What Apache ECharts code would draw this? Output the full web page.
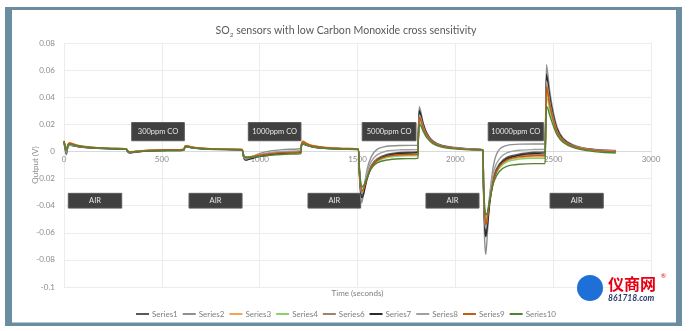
<!DOCTYPE html>
<html>
<head>
<meta charset="utf-8">
<script src="https://cdn.jsdelivr.net/npm/echarts@6.0.0/dist/echarts.min.js"></script>
<style>
  html, body { margin: 0; padding: 0; background: #ffffff; }
  #chart { width: 692px; height: 331px; }
</style>
</head>
<body>
<div id="chart"></div>
<script>
// Sample times (seconds), shared by every sensor trace
const times = [
  0, 6, 12, 20, 30, 45, 70, 110, 170, 240, 318,
  324, 335, 355, 390, 450, 530, 612,
  618, 628, 650, 700, 780, 910,
  914, 920, 930, 950, 990, 1050, 1130, 1210,
  1214, 1222, 1240, 1270, 1330, 1420, 1503,
  1508, 1515, 1522, 1532, 1548, 1570, 1600, 1650, 1720, 1808,
  1811, 1816, 1824, 1836, 1855, 1885, 1930, 2000, 2080, 2140,
  2144, 2150, 2156, 2164, 2178, 2198, 2225, 2265, 2330, 2400, 2458,
  2461, 2466, 2472, 2482, 2498, 2520, 2550, 2600, 2670, 2750, 2820
];

// Sensor outputs (V) at each sample time
const series1 = [
  0.0070, 0.0030, -0.0005, 0.0040, 0.0050, 0.0046, 0.0038, 0.0031, 0.0025, 0.0021, 0.0019,
  0.0004, -0.0006, -0.0004, 0.0002, 0.0007, 0.0010, 0.0012,
  0.0034, 0.0037, 0.0029, 0.0022, 0.0017, 0.0013,
  -0.0012, -0.0042, -0.0052, -0.0046, -0.0031, -0.0016, -0.0006, 0.0000,
  0.0048, 0.0058, 0.0047, 0.0035, 0.0026, 0.0020, 0.0017,
  -0.011, -0.026, -0.032, -0.029, -0.019, -0.0105, -0.0055, -0.0022, -0.0008, 0.0000,
  0.011, 0.028, 0.0255, 0.019, 0.0125, 0.0072, 0.0041, 0.0025, 0.0016, 0.0012,
  -0.026, -0.052, -0.059, -0.051, -0.033, -0.0175, -0.0092, -0.0042, -0.0018, -0.0006, 0.0000,
  0.016, 0.055, 0.050, 0.040, 0.028, 0.016, 0.009, 0.0045, 0.0020, 0.0010, 0.0005
];
const series2 = [
  0.0065, 0.0010, -0.0025, 0.0030, 0.0045, 0.0042, 0.0035, 0.0029, 0.0024, 0.0021, 0.0019,
  0.0000, -0.0012, -0.0008, 0.0000, 0.0007, 0.0011, 0.0014,
  0.0036, 0.0038, 0.0030, 0.0023, 0.0018, 0.0014,
  -0.0018, -0.0055, -0.0066, -0.0050, -0.0020, 0.0002, 0.0015, 0.0022,
  0.0050, 0.0058, 0.0046, 0.0035, 0.0027, 0.0021, 0.0018,
  -0.013, -0.031, -0.038, -0.030, -0.014, -0.004, 0.0015, 0.0038, 0.0044, 0.0045,
  0.014, 0.033, 0.029, 0.021, 0.0135, 0.0078, 0.0046, 0.0029, 0.0019, 0.0014,
  -0.030, -0.066, -0.076, -0.060, -0.030, -0.008, 0.0015, 0.0045, 0.0054, 0.0055, 0.0055,
  0.020, 0.064, 0.058, 0.045, 0.031, 0.018, 0.010, 0.0050, 0.0022, 0.0012, 0.0008
];
const series3 = [
  0.0080, 0.0040, 0.0010, 0.0052, 0.0064, 0.0058, 0.0046, 0.0036, 0.0028, 0.0023, 0.0020,
  0.0007, -0.0002, 0.0000, 0.0005, 0.0009, 0.0012, 0.0014,
  0.0039, 0.0043, 0.0034, 0.0025, 0.0019, 0.0014,
  -0.0007, -0.0031, -0.0040, -0.0038, -0.0029, -0.0018, -0.0009, -0.0004,
  0.0062, 0.0077, 0.0061, 0.0044, 0.0031, 0.0023, 0.0019,
  -0.009, -0.023, -0.028, -0.027, -0.0198, -0.012, -0.0070, -0.0040, -0.0029, -0.0025,
  0.009, 0.024, 0.0222, 0.017, 0.0115, 0.0066, 0.0038, 0.0023, 0.0015, 0.0011,
  -0.023, -0.045, -0.052, -0.048, -0.0335, -0.0195, -0.0115, -0.0068, -0.0046, -0.0040, -0.0040,
  0.013, 0.045, 0.042, 0.0335, 0.024, 0.0142, 0.0079, 0.0037, 0.0013, 0.0002, -0.0004
];
const series4 = [
  0.0072, 0.0033, 0.0005, 0.0045, 0.0056, 0.0051, 0.0042, 0.0034, 0.0027, 0.0022, 0.0020,
  0.0006, -0.0003, -0.0001, 0.0004, 0.0009, 0.0012, 0.0013,
  0.0036, 0.0040, 0.0031, 0.0023, 0.0017, 0.0013,
  -0.0008, -0.0033, -0.0042, -0.0040, -0.0031, -0.0020, -0.0011, -0.0006,
  0.0054, 0.0066, 0.0053, 0.0039, 0.0028, 0.0021, 0.0017,
  -0.0088, -0.022, -0.027, -0.026, -0.0195, -0.0122, -0.0074, -0.0045, -0.0034, -0.0030,
  0.0085, 0.022, 0.0205, 0.016, 0.0108, 0.0062, 0.0036, 0.0022, 0.0014, 0.0010,
  -0.022, -0.043, -0.050, -0.047, -0.0335, -0.020, -0.0122, -0.0077, -0.0056, -0.0050, -0.0050,
  0.012, 0.040, 0.038, 0.031, 0.0225, 0.0135, 0.0076, 0.0035, 0.0011, 0.0000, -0.0006
];
const series6 = [
  0.0075, 0.0035, 0.0000, 0.0045, 0.0055, 0.0050, 0.0041, 0.0033, 0.0026, 0.0022, 0.0019,
  0.0005, -0.0004, -0.0002, 0.0003, 0.0008, 0.0011, 0.0013,
  0.0036, 0.0040, 0.0031, 0.0023, 0.0017, 0.0013,
  -0.0010, -0.0038, -0.0047, -0.0043, -0.0031, -0.0018, -0.0009, -0.0004,
  0.0052, 0.0062, 0.0050, 0.0037, 0.0027, 0.0021, 0.0017,
  -0.010, -0.025, -0.030, -0.028, -0.0195, -0.0112, -0.0060, -0.0029, -0.0015, -0.0010,
  0.010, 0.026, 0.0238, 0.018, 0.012, 0.0069, 0.0040, 0.0024, 0.0015, 0.0011,
  -0.025, -0.049, -0.056, -0.050, -0.034, -0.019, -0.0105, -0.0055, -0.0030, -0.0022, -0.0020,
  0.015, 0.050, 0.046, 0.036, 0.0255, 0.0148, 0.0083, 0.0041, 0.0017, 0.0006, 0.0001
];
const series7 = [
  0.0072, 0.0020, -0.0015, 0.0035, 0.0048, 0.0044, 0.0036, 0.0029, 0.0023, 0.0019, 0.0017,
  0.0001, -0.0010, -0.0007, -0.0001, 0.0004, 0.0007, 0.0009,
  0.0031, 0.0035, 0.0027, 0.0020, 0.0015, 0.0011,
  -0.0016, -0.0050, -0.0063, -0.0056, -0.0040, -0.0024, -0.0012, -0.0005,
  0.0044, 0.0055, 0.0045, 0.0033, 0.0024, 0.0018, 0.0015,
  -0.012, -0.028, -0.034, -0.031, -0.021, -0.012, -0.0065, -0.0030, -0.0013, -0.0005,
  0.012, 0.030, 0.027, 0.020, 0.013, 0.0074, 0.0042, 0.0025, 0.0016, 0.0011,
  -0.027, -0.055, -0.063, -0.055, -0.036, -0.0195, -0.0105, -0.0052, -0.0026, -0.0014, -0.0010,
  0.017, 0.057, 0.052, 0.041, 0.0285, 0.0165, 0.0092, 0.0045, 0.0019, 0.0008, 0.0002
];
const series8 = [
  0.0068, 0.0025, -0.0010, 0.0036, 0.0047, 0.0044, 0.0037, 0.0030, 0.0025, 0.0021, 0.0019,
  0.0003, -0.0007, -0.0004, 0.0003, 0.0008, 0.0011, 0.0013,
  0.0035, 0.0037, 0.0029, 0.0022, 0.0017, 0.0013,
  -0.0014, -0.0046, -0.0056, -0.0046, -0.0026, -0.0010, 0.0001, 0.0008,
  0.0049, 0.0058, 0.0047, 0.0035, 0.0026, 0.0020, 0.0017,
  -0.011, -0.026, -0.031, -0.027, -0.016, -0.0075, -0.0025, 0.0003, 0.0012, 0.0015,
  0.011, 0.027, 0.0245, 0.0185, 0.0122, 0.0071, 0.0041, 0.0025, 0.0016, 0.0012,
  -0.026, -0.051, -0.057, -0.048, -0.029, -0.0135, -0.0055, -0.0008, 0.0009, 0.0014, 0.0015,
  0.016, 0.052, 0.047, 0.037, 0.026, 0.015, 0.0085, 0.0042, 0.0019, 0.0009, 0.0004
];
const series9 = [
  0.0078, 0.0038, 0.0008, 0.0050, 0.0062, 0.0056, 0.0045, 0.0035, 0.0028, 0.0023, 0.0020,
  0.0006, -0.0003, -0.0001, 0.0004, 0.0009, 0.0012, 0.0014,
  0.0038, 0.0042, 0.0033, 0.0024, 0.0018, 0.0014,
  -0.0008, -0.0034, -0.0043, -0.0040, -0.0030, -0.0018, -0.0009, -0.0004,
  0.0058, 0.0072, 0.0058, 0.0042, 0.0030, 0.0022, 0.0018,
  -0.0095, -0.024, -0.029, -0.0275, -0.020, -0.0118, -0.0067, -0.0036, -0.0024, -0.0020,
  0.0095, 0.025, 0.023, 0.0175, 0.0118, 0.0068, 0.0039, 0.0024, 0.0015, 0.0011,
  -0.024, -0.047, -0.054, -0.049, -0.034, -0.0195, -0.011, -0.0062, -0.0038, -0.0031, -0.0030,
  0.014, 0.048, 0.044, 0.035, 0.0248, 0.0145, 0.0081, 0.0039, 0.0015, 0.0004, -0.0002
];
const series10 = [
  0.0070, 0.0032, 0.0006, 0.0044, 0.0054, 0.0049, 0.0040, 0.0032, 0.0025, 0.0020, 0.0017,
  0.0004, -0.0005, -0.0004, 0.0000, 0.0004, 0.0007, 0.0009,
  0.0032, 0.0036, 0.0028, 0.0020, 0.0014, 0.0010,
  -0.0010, -0.0035, -0.0045, -0.0045, -0.0038, -0.0029, -0.0021, -0.0016,
  0.0046, 0.0058, 0.0047, 0.0034, 0.0024, 0.0017, 0.0014,
  -0.0085, -0.021, -0.026, -0.025, -0.0195, -0.0128, -0.0085, -0.0063, -0.0054, -0.0050,
  0.008, 0.020, 0.0188, 0.0148, 0.0100, 0.0058, 0.0033, 0.0019, 0.0011, 0.0007,
  -0.021, -0.041, -0.047, -0.045, -0.034, -0.022, -0.0148, -0.0108, -0.0094, -0.0090, -0.0090,
  0.010, 0.033, 0.032, 0.027, 0.020, 0.0122, 0.0068, 0.0030, 0.0006, -0.0006, -0.0012
];

const seriesNames = ['Series1', 'Series2', 'Series3', 'Series4', 'Series6', 'Series7', 'Series8', 'Series9', 'Series10'];
const seriesValues = [series1, series2, series3, series4, series6, series7, series8, series9, series10];
const seriesColors = ['#595959', '#8f8f8f', '#f2a450', '#8fcf6c', '#a3826c', '#2b2b2b', '#a0a0a0', '#c55a11', '#548235'];

// Gas-exposure annotation boxes: label, time span (s), output span (V)
const annotations = [
  ['300ppm CO',   346,  615,  0.0213,  0.0079],
  ['1000ppm CO',  942, 1211,  0.0213,  0.0079],
  ['5000ppm CO', 1524, 1799,  0.0213,  0.0079],
  ['10000ppm CO',2168, 2450,  0.0213,  0.0079],
  ['AIR',          22,  295, -0.0309, -0.0418],
  ['AIR',         639,  910, -0.0309, -0.0418],
  ['AIR',        1247, 1516, -0.0309, -0.0418],
  ['AIR',        1850, 2121, -0.0309, -0.0418],
  ['AIR',        2484, 2756, -0.0309, -0.0418]
];

const Y_MIN = -0.1, Y_MAX = 0.08;
const GRID = { left: 64, right: 41, top: 43, bottom: 44 };
const PLOT_H = 331 - GRID.top - GRID.bottom;

const FONT = 'Lato, "Open Sans", sans-serif';
const chart = echarts.init(document.getElementById('chart'), null, { renderer: 'canvas' });

const lineSeries = seriesNames.map((name, k) => ({
  name: name,
  type: 'line',
  data: times.map((t, i) => [t, seriesValues[k][i]]),
  showSymbol: false,
  symbol: 'none',
  smooth: 0.25,
  z: 3,
  color: seriesColors[k],
  lineStyle: { width: 1.4, color: seriesColors[k] },
  emphasis: { disabled: true }
}));

const boxSeries = {
  name: 'boxes',
  type: 'line',
  data: [],
  z: 1,
  silent: true,
  markArea: {
    silent: true,
    itemStyle: { color: '#404040', borderColor: '#5a5a5a', borderWidth: 1, opacity: 1 },
    label: { show: true, position: 'inside', color: '#e8e8e8', fontSize: 7.5, fontFamily: FONT },
    data: annotations.map(a => [
      { name: a[0], xAxis: a[1], yAxis: a[3] },
      { xAxis: a[2], yAxis: a[4] }
    ])
  }
};

chart.setOption({
  backgroundColor: '#ffffff',
  animation: false,
  title: {
    text: '{n|SO}{s|2}{n| sensors with low Carbon Monoxide cross sensitivity}',
    left: 'center',
    top: 19,
    textStyle: {
      fontWeight: 'normal',
      rich: {
        n: { fontSize: 10.6, color: '#595959', fontFamily: FONT, fontWeight: 'normal', lineHeight: 14 },
        s: { fontSize: 6.5, color: '#595959', fontFamily: FONT, fontWeight: 'normal', lineHeight: 7, verticalAlign: 'bottom' }
      }
    }
  },
  grid: Object.assign({ containLabel: false }, GRID),
  legend: {
    data: seriesNames,
    left: 'center',
    top: 305,
    icon: 'rect',
    itemWidth: 13,
    itemHeight: 2,
    itemGap: 5,
    textStyle: { fontSize: 8, color: '#7f7f7f', fontFamily: FONT, padding: [0, 0, 0, -2] }
  },
  xAxis: {
    type: 'value',
    min: 0,
    max: 3000,
    interval: 500,
    position: 'bottom',
    // lift the axis so it runs along the zero line of the output axis
    offset: -PLOT_H * (0 - Y_MIN) / (Y_MAX - Y_MIN),
    axisLine: { show: true, onZero: false, lineStyle: { color: '#d9d9d9', width: 1 } },
    axisTick: { show: false },
    axisLabel: { color: '#8c8c8c', fontSize: 8, fontFamily: FONT, margin: 4, formatter: v => String(v) },
    splitLine: { show: true, lineStyle: { color: '#ececec', width: 1 } }
  },
  yAxis: {
    type: 'value',
    min: Y_MIN,
    max: Y_MAX,
    interval: 0.02,
    name: 'Output (V)',
    nameLocation: 'middle',
    nameGap: 25,
    nameMoveOverlap: false,
    nameTextStyle: { color: '#8c8c8c', fontSize: 8, fontFamily: FONT },
    axisLine: { show: false },
    axisTick: { show: false },
    axisLabel: {
      color: '#8c8c8c', fontSize: 8, fontFamily: FONT, margin: 9,
      formatter: v => String(+v.toFixed(2))
    },
    splitLine: { show: true, lineStyle: { color: '#ececec', width: 1 } }
  },
  graphic: [
    // blue-grey frame around the white panel
    { type: 'rect', z: -20, silent: true, shape: { x: 5, y: 7, width: 677, height: 319 }, style: { fill: '#6b8da2' } },
    { type: 'rect', z: -19, silent: true, shape: { x: 12, y: 10, width: 664, height: 312.5 }, style: { fill: '#ffffff' } },
    // x-axis title under the plot
    { type: 'text', z: 10, silent: true, x: 357.5, y: 293,
      style: { text: 'Time (seconds)', fill: '#7f7f7f', fontSize: 8, fontFamily: FONT, align: 'center', verticalAlign: 'middle' } },
    // site mark
    { type: 'circle', z: 10, silent: true, shape: { cx: 590, cy: 288, r: 13 }, style: { fill: '#1f6fd8' } },
    { type: 'text', z: 11, silent: true, x: 608, y: 284,
      style: { text: '仪商网', fill: '#e60012', fontSize: 16, fontWeight: 'bold', fontFamily: '"Noto Sans CJK SC", sans-serif', verticalAlign: 'middle' } },
    { type: 'text', z: 11, silent: true, x: 661, y: 276,
      style: { text: '®', fill: '#e60012', fontSize: 6, fontFamily: FONT, verticalAlign: 'middle' } },
    { type: 'text', z: 11, silent: true, x: 608, y: 298,
      style: { text: '861718.com', fill: '#2a3a6a', fontSize: 8.5, fontWeight: 'bold', fontStyle: 'italic', fontFamily: FONT, verticalAlign: 'middle' } }
  ],
  series: [boxSeries].concat(lineSeries)
});
</script>
</body>
</html>
